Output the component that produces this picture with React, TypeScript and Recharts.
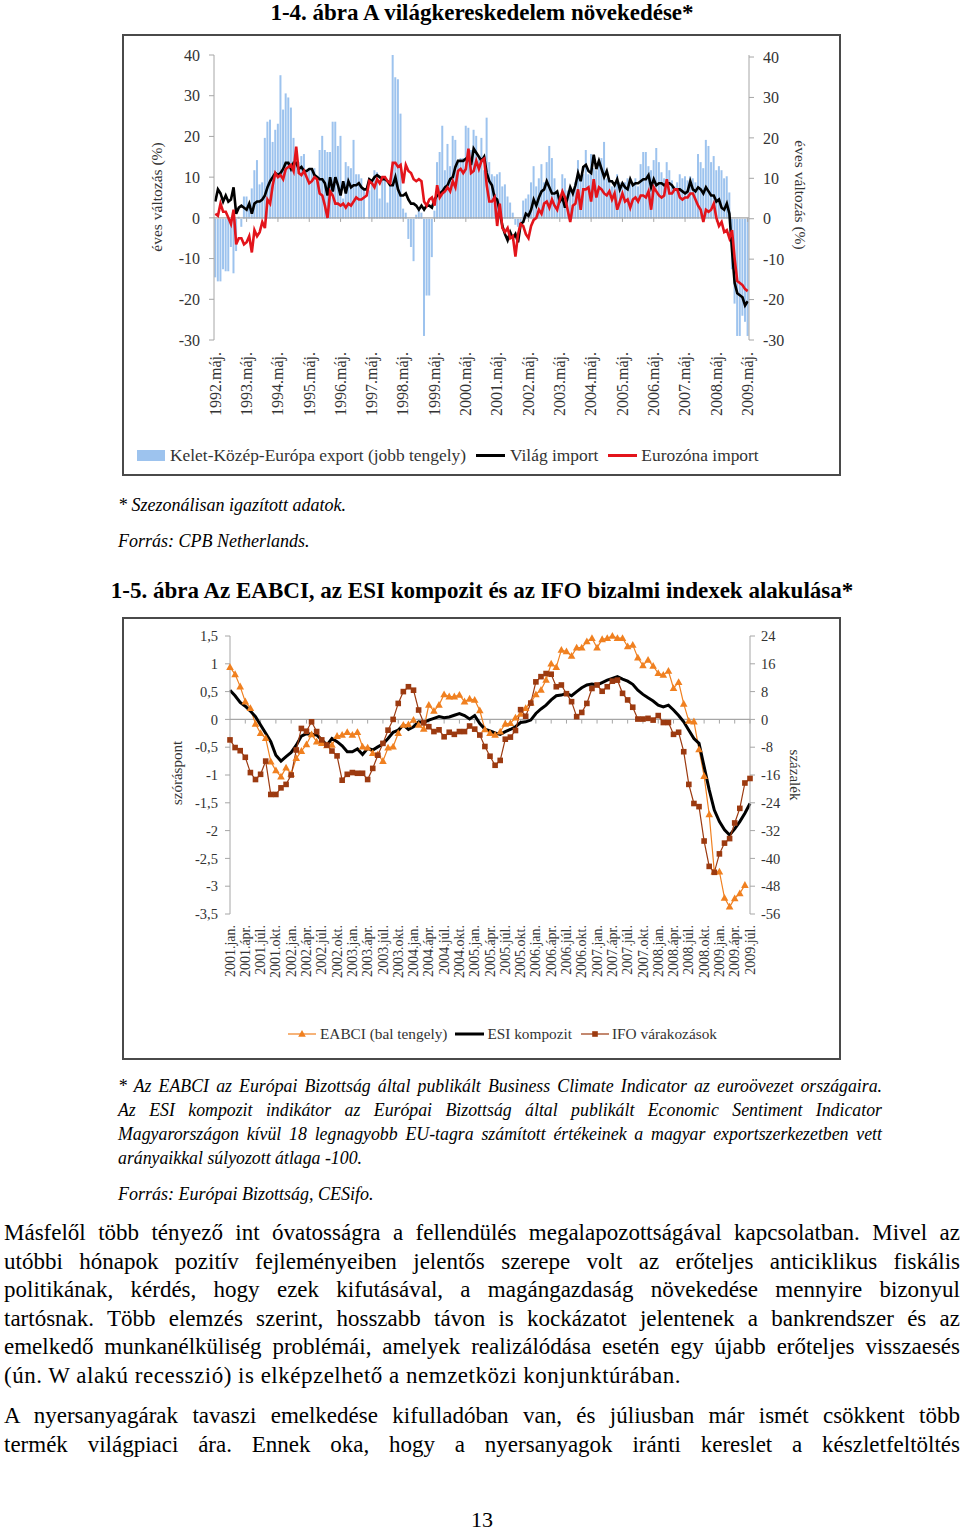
import React from "react";
import {
  ComposedChart,
  LineChart,
  Bar,
  Line,
  XAxis,
  YAxis,
  ReferenceLine,
} from "recharts";

const FONT = '"Liberation Serif", "DejaVu Serif", serif';
const AXIS = "#a6a6a6";
const TXT = "#333";

// 1-4. ábra, havi adatok 1992.máj. – 2009.máj. (éves változás, %)
const EXPORT_KKE = [
  -14.5, -15.5, -15.5, -12.5, -13, -13, -7, -13.5, -8, 0.5, -2, 5.5,
  5.5, 3, 7.5, 12, 14.5, 8.5, 9, 20, 24, 24.5, 19, 22,
  23.5, 35.5, 27, 31, 30, 27.5, 20, 16, 14, 15.5, 16, 12,
  12.5, 12, 12.5, 10.5, 17, 20.5, 17, 16.5, 16.5, 24, 24, 18,
  20.5, 5, 14, 13, 12.5, 19.5, 11, 11, 10, 7.5, 0, 7,
  9, 12, 11.5, 5, 10, 10, 4, 10, 40.5, 35, 34.5, 26,
  2.5, 1.5, -5, -7, -10.5, 1, 2, 1.5, -29, -19, -19, -9.5,
  2, 14, 16.5, 23, 12, 18.5, 13, 20.5, 19.5, 14, 15, 15,
  23, 22.5, 17, 22, 20.5, 15, 20, 12, 25, 14, 11, 10.5,
  11, 11.5, 8, 8.5, 5.5, 4, 1.5, -1.5, -2, -1, 4.5, 5,
  6, 9, 13, 8, 10, 13.5, 9, 14, 18, 15, 10, 6,
  5.5, 11, 10, 7, 8, 6, 9, 14.5, 10, 11, 17, 11,
  16, 12.5, 12, 14.5, 15, 19, 10, 9.5, 8, 8, 11, 9,
  8, 9, 10, 8.5, 9, 10, 8, 13.5, 16.5, 16.5, 13, 12,
  14.5, 17.5, 14, 11.5, 10, 14, 12, 9.5, 8, 9, 11, 10,
  10.5, 9.5, 10.5, 10, 9, 16, 14, 12.5, 19.5, 18, 14, 15.5,
  12, 13, 12, 10, 10.5, 6.5, -12.5, -21, -29, -29, -24, -25.5,
  -29,
];

const VILAG_IMPORT = [
  4, 7, 6, 4, 5.5, 4, 4.5, 7.5, 1, 2.5, 3, 2.5,
  2, 3.5, 1, 3.5, 4, 4, 4.5, 5.5, 7.5, 9, 10, 11,
  10.5, 11, 12, 13.5, 13.5, 12, 13.5, 13.5, 12, 12.5, 11.5, 11.5,
  12, 12, 10.5, 10, 9.5, 9.5, 8.5, 5.5, 10, 6.5, 10, 8,
  5.5, 9, 6, 9, 7.5, 8, 8, 8.5, 7.5, 7, 7, 9.5,
  9, 10, 10.5, 10, 9.5, 9.5, 9, 8, 8, 10, 7, 5.5,
  5.5, 6, 4.5, 3.5, 3.5, 3, 2, 3, 2, 3, 3, 2.5,
  4.5, 5.5, 6, 6.5, 7.5, 8, 9.5, 10, 12.5, 14, 14, 14,
  14.5, 15, 13, 17, 16, 15, 14, 15, 11, 9, 8, 5,
  4.5, 1.5, -2, -4, -5.5, -3.5, -5, -4, -6, -1.5, -1, 1,
  0.5, 2, 4.5, 3, 5, 6.5, 7, 9, 7.5, 6, 6, 6.5,
  4, 5, 2.5, 5, 7.5, 6, 8, 11, 9, 12.5, 13, 11.5,
  11, 15.5, 12, 14, 12, 10, 11.5, 9, 9, 8, 9.5, 7,
  8.5, 7.5, 7, 9.5, 8, 8.5, 8.5, 9, 9.5, 9.5, 10.5, 7.5,
  9.5, 8, 8.5, 8.5, 8, 8.5, 8.5, 8, 7, 7, 7, 6.5,
  6, 6.5, 9, 7, 6.5, 7.5, 7, 6, 7.5, 6.5, 5.5, 5.5,
  4, 4.5, 2.5, 2, 3.5, 1, -8, -16, -18.5, -19, -19.5, -21.5,
  -20.5,
];

const EURO_IMPORT = [
  1, 0.5, 3.5, 1.5, 1.5, 0, -1.5, 2, -6.5, -5, -5, -6.5,
  -6, -4.5, -8.5, -3, -4.5, -3.5, -1, -2.5, 4.5, 3.5, 8, 11,
  10, 10.5, 9.5, 12, 12.5, 13, 11.5, 17.5, 11, 10.5, 11.5, 10,
  8.5, 9, 10, 9.5, 6, 5.5, 3, 0, 6.5, 5.5, 3.5, 3.5,
  3, 3.5, 2.5, 3.5, 3, 4, 5, 4.5, 4.5, 5, 5.5, 9,
  8.5, 7.5, 9.5, 8.5, 10, 10, 9, 8.5, 13.5, 13.5, 12.5, 13,
  8.5, 13, 11.5, 11, 9.5, 9, 9.5, 9, 4, 3, 4.5, 5,
  3, 8, 5, 6, 6.5, 7.5, 6.5, 9, 7.5, 11.5, 12, 11,
  12, 17, 11, 11.5, 14, 12, 14, 14.5, 8, 4, 4, 5,
  -2, 3.5, -2.5, -3.5, -2.5, -5, -4.5, -9.5, -4, -1.5, -2, -4,
  -5, -2, -0.5, 0, 2, 1, 3.5, 4, 2.5, 4.5, 3, 2,
  4.5, 6.5, 5, 2, -1, 3, 3.5, 7, 2, 7, 7, 7.5,
  4, 9.5, 5, 7.5, 7, 6, 5.5, 6.5, 4.5, 6, 2, 4,
  6, 4, 4.5, 2.5, 4.5, 5, 4, 5.5, 5.5, 5, 6.5, 2,
  7.5, 6.5, 5.5, 5, 5.5, 9.5, 6, 6, 7, 7, 5, 4.5,
  5, 5, 6, 6, 4.5, 3, 2, -1, 2, 1.5, 2, 3.5,
  0, -2, -1, -3.5, -3, -5, -3, -10, -15.5, -16, -16.5, -17.5,
  -18,
];

const TICKS_1 = [-30, -20, -10, 0, 10, 20, 30, 40];

// 1-5. ábra, havi adatok 2001.jan. – 2009.júl.
const EABCI = [
  0.94, 0.81, 0.59, 0.32, 0.2, -0.08, -0.25, -0.34, -0.76, -0.92, -1.03, -0.87,
  -0.98, -0.7, -0.57, -0.45, -0.27, -0.4, -0.43, -0.47, -0.46, -0.3, -0.28, -0.23,
  -0.28, -0.23, -0.49, -0.51, -0.61, -0.63, -0.75, -0.51, -0.49, -0.25, -0.1, -0.09,
  -0.01, -0.1, -0.17, 0.26, 0.15, 0.26, 0.45, 0.41, 0.41, 0.44, 0.32, 0.37,
  0.35, 0.16, -0.18, -0.25, -0.28, -0.22, -0.08, -0.07, 0.03, 0.1, 0.2, 0.3,
  0.45, 0.53, 0.71, 1.0, 0.94, 1.25, 1.22, 1.14, 1.29, 1.29, 1.4, 1.46,
  1.29, 1.44, 1.46, 1.5, 1.46, 1.46, 1.31, 1.34, 1.11, 0.97, 1.07, 0.96,
  0.83, 0.8, 0.87, 0.56, 0.67, 0.28, -0.03, -0.04, -0.54, -1.02, -1.71, -2.74,
  -2.74, -3.21, -3.37, -3.22, -3.13, -2.98, null,
];

const ESI = [
  8.4, 6.8, 4.9, 3.8, 2.4, 0.8, -1.6, -4.0, -6.4, -10.3, -12.0, -10.7,
  -9.5, -7.4, -4.8, -4.1, -4.3, -4.5, -5.9, -7.4, -5.5, -6.4, -7.6, -9.3,
  -9.3, -8.5, -10.1, -8.3, -8.8, -7.9, -7.1, -5.5, -3.7, -3.1, -1.6, -2.9,
  -2.1, -0.7, -0.9, -0.2, 0.3, 0.8, 0.5, 0.7, 1.2, 1.7, 1.1, 0.1,
  1.1, -1.2, -2.8, -3.3, -3.9, -4.3, -3.5, -2.9, -2.1, -0.9, -0.7, -0.2,
  1.7, 3.0, 4.1, 5.6, 6.8, 7.0, 7.5, 6.8, 8.0, 9.1, 9.9, 10.2,
  9.9, 10.6, 11.3, 11.8, 12.3, 11.6, 11.0, 10.1, 8.4, 7.2, 6.2, 5.3,
  4.1, 3.6, 4.1, 2.7, 1.1, -0.7, -3.1, -5.5, -6.9, -13.6, -20.3, -26.1,
  -29.4, -31.8, -33.3, -31.5, -29.4, -27.0, -24.2,
];

const IFO = [
  -5.9, -8.1, -9.0, -10.9, -15.3, -17.3, -15.8, -12.0, -21.6, -21.6, -19.7, -18.7,
  -16.0, -8.8, -2.6, -3.4, -0.7, -3.5, -5.9, -7.4, -9.1, -10.5, -17.5, -15.8,
  -15.3, -15.5, -15.5, -17.3, -14.1, -10.3, -6.9, -3.1, 0, 4.6, 8.0, 9.4,
  8.4, 2.7, -1.0, -2.1, -3.5, -3.0, -5.0, -3.7, -4.3, -3.5, -3.5, -1.9,
  -2.8, -4.5, -7.8, -10.6, -13.2, -11.8, -5.7, -5.1, -3.2, 2.8, 0.9, 4.7,
  10.8, 12.3, 13.2, 13.0, 9.4, 9.9, 7.4, 5.1, 0.8, 2.0, 4.6, 8.9,
  9.9, 8.1, 9.4, 11.0, 11.3, 7.5, 5.6, 3.5, 0.1, 0.1, 0.3, -0.2,
  1.1, -0.9, -0.9, -4.3, -3.7, -9.3, -18.7, -24.2, -25.1, -35.0, -42.3, -44.0,
  -38.7, -35.6, -34.3, -29.8, -25.6, -18.3, -17.0,
];

const TICKS_2L = [-3.5, -3, -2.5, -2, -1.5, -1, -0.5, 0, 0.5, 1, 1.5];
const TICKS_2R = [-56, -48, -40, -32, -24, -16, -8, 0, 8, 16, 24];

const HONAP = ["jan.", "febr.", "márc.", "ápr.", "máj.", "jún.", "júl.", "aug.", "szept.", "okt.", "nov.", "dec."];

function honapok(year: number, month: number, count: number) {
  const out: string[] = [];
  for (let k = 0; k < count; k++) {
    const m = month + k;
    out.push(`${year + Math.floor(m / 12)}.${HONAP[m % 12]}`);
  }
  return out;
}

const MONTHS_1 = honapok(1992, 4, EXPORT_KKE.length);
const MONTHS_2 = honapok(2001, 0, EABCI.length);

const C1 = { kke: "#9dc3ee", vilag: "#000000", euro: "#e3141b" };
const C2 = { eabci: "#f08020", esi: "#000000", ifo: "#9c3a10" };

const data1 = MONTHS_1.map((m, i) => ({
  m,
  kke: EXPORT_KKE[i],
  vilag: VILAG_IMPORT[i],
  euro: EURO_IMPORT[i],
}));

const data2 = MONTHS_2.map((m, i) => ({
  m,
  eabci: EABCI[i],
  esi: ESI[i],
  ifo: IFO[i],
}));

const yearTicks1 = MONTHS_1.filter((_, i) => i % 12 === 0 && i > 0);
const quarterTicks2 = MONTHS_2.filter((_, i) => i % 3 === 0 && i > 0);

const comma = (v: number) => String(v).replace(".", ",");

function RotTick(props: any) {
  const { x, y, payload, size } = props;
  return (
    <text
      x={x}
      y={y}
      transform={`rotate(-90 ${x} ${y})`}
      textAnchor="end"
      dy="0.33em"
      fontSize={size}
      fill={TXT}
      fontFamily={FONT}
    >
      {payload.value}
    </text>
  );
}

function Triangle(p: any) {
  if (p.cx == null || p.cy == null || p.value == null) return <g key={p.index} />;
  const { cx, cy } = p;
  return (
    <path
      key={p.index}
      d={`M${cx},${cy - 4}L${cx + 3.8},${cy + 2.8}L${cx - 3.8},${cy + 2.8}Z`}
      fill={C2.eabci}
    />
  );
}

function Square(p: any) {
  if (p.cx == null || p.cy == null || p.value == null) return <g key={p.index} />;
  return <rect key={p.index} x={p.cx - 2.8} y={p.cy - 2.8} width={5.6} height={5.6} fill={C2.ifo} />;
}

const abs = (s: React.CSSProperties): React.CSSProperties => ({ position: "absolute", ...s });

function RotTitle({ x, y, deg, size, children }: any) {
  return (
    <div
      style={abs({
        left: x,
        top: y,
        transform: `translate(-50%, -50%) rotate(${deg}deg)`,
        whiteSpace: "nowrap",
        fontSize: size,
        color: TXT,
        lineHeight: "18px",
      })}
    >
      {children}
    </div>
  );
}

function JLine({ children, last, ls }: any) {
  return (
    <div
      style={{
        textAlign: last ? "left" : "justify",
        textAlignLast: last ? "left" : "justify",
        letterSpacing: ls || 0,
      }}
    >
      {children}
    </div>
  );
}

export default function App() {
  return (
    <div
      style={abs({
        left: 0,
        top: 0,
        width: 960,
        height: 1531,
        background: "#fff",
        overflow: "hidden",
        fontFamily: FONT,
        color: "#000",
      })}
    >
      <div style={abs({ left: 0, top: 0, width: 964, textAlign: "center", fontSize: 23, fontWeight: "bold", lineHeight: "26px" })}>
        1-4. ábra A világkereskedelem növekedése*
      </div>

      <div style={abs({ left: 122, top: 34, width: 719, height: 442, border: "2px solid #4a4a4a", boxSizing: "border-box" })} />
      <div style={abs({ left: 122, top: 34 })}>
        <ComposedChart
          width={720}
          height={443}
          data={data1}
          margin={{ top: 21, right: 33, left: 32, bottom: 107 }}
          barCategoryGap="8%"
          style={{ fontFamily: FONT }}
        >
          <XAxis
            dataKey="m"
            interval={11}
            axisLine={false}
            tickLine={false}
            tickSize={0}
            tickMargin={12}
            height={30}
            tick={(p: any) => <RotTick {...p} size={16} />}
          />
          <YAxis
            yAxisId="left"
            domain={[-30, 40]}
            ticks={TICKS_1}
            interval={0}
            width={60}
            tickSize={5}
            tickMargin={9}
            axisLine={{ stroke: AXIS }}
            tickLine={{ stroke: AXIS }}
            tick={{ fontSize: 16, fill: TXT }}
          />
          <YAxis
            yAxisId="right"
            orientation="right"
            domain={[-30, 40]}
            ticks={TICKS_1}
            interval={0}
            width={60}
            tickSize={5}
            tickMargin={9}
            axisLine={{ stroke: AXIS }}
            tickLine={{ stroke: AXIS }}
            tick={{ fontSize: 16, fill: TXT }}
          />
          <Bar dataKey="kke" yAxisId="right" fill={C1.kke} isAnimationActive={false} />
          <ReferenceLine yAxisId="left" y={0} stroke={AXIS} strokeWidth={1.2} />
          {yearTicks1.map((m) => (
            <ReferenceLine
              key={m}
              yAxisId="left"
              segment={[{ x: m, y: 0 }, { x: m, y: -1 }]}
              stroke={AXIS}
            />
          ))}
          <Line dataKey="vilag" yAxisId="left" stroke={C1.vilag} strokeWidth={2.6} dot={false} type="linear" isAnimationActive={false} />
          <Line dataKey="euro" yAxisId="left" stroke={C1.euro} strokeWidth={2.6} dot={false} type="linear" isAnimationActive={false} />
        </ComposedChart>
      </div>
      <RotTitle x={157} y={197} deg={-90} size={15.5}>éves változás (%)</RotTitle>
      <RotTitle x={800} y={195} deg={90} size={15.5}>éves változás (%)</RotTitle>

      <div style={abs({ left: 137, top: 445, height: 20, display: "flex", alignItems: "center", fontSize: 17.4, color: TXT, whiteSpace: "nowrap" })}>
        <span style={{ display: "inline-block", width: 28, height: 11, background: C1.kke, marginRight: 5 }} />
        <span style={{ marginRight: 10 }}>Kelet-Közép-Európa export (jobb tengely)</span>
        <span style={{ display: "inline-block", width: 29, height: 3, background: C1.vilag, marginRight: 5 }} />
        <span style={{ marginRight: 10 }}>Világ import</span>
        <span style={{ display: "inline-block", width: 29, height: 3, background: C1.euro, marginRight: 4 }} />
        <span>Eurozóna import</span>
      </div>

      <div style={abs({ left: 118, top: 495, fontSize: 18, fontStyle: "italic", lineHeight: "20px" })}>* Szezonálisan igazított adatok.</div>
      <div style={abs({ left: 118, top: 531, fontSize: 18, fontStyle: "italic", lineHeight: "20px" })}>Forrás: CPB Netherlands.</div>

      <div style={abs({ left: 0, top: 578.5, width: 964, textAlign: "center", fontSize: 23, fontWeight: "bold", lineHeight: "23px" })}>
        1-5. ábra Az EABCI, az ESI kompozit és az IFO bizalmi indexek alakulása*
      </div>

      <div style={abs({ left: 122, top: 617, width: 719, height: 443, border: "2px solid #4a4a4a", boxSizing: "border-box" })} />
      <div style={abs({ left: 122, top: 617 })}>
        <LineChart
          width={720}
          height={443}
          data={data2}
          margin={{ top: 19, right: 32, left: 48, bottom: 116 }}
          style={{ fontFamily: FONT }}
        >
          <XAxis
            dataKey="m"
            interval={2}
            axisLine={false}
            tickLine={false}
            tickSize={0}
            tickMargin={11}
            height={30}
            tick={(p: any) => <RotTick {...p} size={14} />}
          />
          <YAxis
            yAxisId="left"
            domain={[-3.5, 1.5]}
            ticks={TICKS_2L}
            interval={0}
            width={60}
            tickSize={5}
            tickMargin={7}
            tickFormatter={comma}
            axisLine={{ stroke: AXIS }}
            tickLine={{ stroke: AXIS }}
            tick={{ fontSize: 14.5, fill: TXT }}
          />
          <YAxis
            yAxisId="right"
            orientation="right"
            domain={[-56, 24]}
            ticks={TICKS_2R}
            interval={0}
            width={60}
            tickSize={5}
            tickMargin={6}
            axisLine={{ stroke: AXIS }}
            tickLine={{ stroke: AXIS }}
            tick={{ fontSize: 14.5, fill: TXT }}
          />
          <ReferenceLine yAxisId="left" y={0} stroke={AXIS} strokeWidth={1.2} />
          {quarterTicks2.map((m) => (
            <ReferenceLine
              key={m}
              yAxisId="left"
              segment={[{ x: m, y: 0 }, { x: m, y: -0.075 }]}
              stroke={AXIS}
            />
          ))}
          <Line dataKey="eabci" yAxisId="left" stroke={C2.eabci} strokeWidth={1.2} dot={Triangle} type="linear" isAnimationActive={false} />
          <Line dataKey="esi" yAxisId="right" stroke={C2.esi} strokeWidth={3} dot={false} type="linear" isAnimationActive={false} />
          <Line dataKey="ifo" yAxisId="right" stroke={C2.ifo} strokeWidth={1.2} dot={Square} type="linear" isAnimationActive={false} />
        </LineChart>
      </div>
      <RotTitle x={177} y={773} deg={-90} size={15}>szóráspont</RotTitle>
      <RotTitle x={795} y={775} deg={90} size={15}>százalék</RotTitle>

      <div style={abs({ left: 288, top: 1024, height: 20, display: "flex", alignItems: "center", fontSize: 15.3, color: TXT, whiteSpace: "nowrap" })}>
        <svg width={28} height={10} style={{ marginRight: 4 }}>
          <line x1={0} y1={5} x2={28} y2={5} stroke={C2.eabci} strokeWidth={1.2} />
          <path d="M14,1L17.8,7.8L10.2,7.8Z" fill={C2.eabci} />
        </svg>
        <span style={{ marginRight: 8 }}>EABCI (bal tengely)</span>
        <svg width={29} height={10} style={{ marginRight: 3 }}>
          <line x1={0} y1={5} x2={29} y2={5} stroke={C2.esi} strokeWidth={3} />
        </svg>
        <span style={{ marginRight: 9 }}>ESI kompozit</span>
        <svg width={28} height={10} style={{ marginRight: 3 }}>
          <line x1={0} y1={5} x2={28} y2={5} stroke={C2.ifo} strokeWidth={1.2} />
          <rect x={11.2} y={2.2} width={5.6} height={5.6} fill={C2.ifo} />
        </svg>
        <span>IFO várakozások</span>
      </div>

      <div style={abs({ left: 118, top: 1074, width: 764, fontSize: 17.8, fontStyle: "italic", lineHeight: "24px" })}>
        <JLine>* Az EABCI az Európai Bizottság által publikált Business Climate Indicator az euroövezet országaira.</JLine>
        <JLine>Az ESI kompozit indikátor az Európai Bizottság által publikált Economic Sentiment Indicator</JLine>
        <JLine>Magyarországon kívül 18 legnagyobb EU-tagra számított értékeinek a magyar exportszerkezetben vett</JLine>
        <JLine last>arányaikkal súlyozott átlaga -100.</JLine>
      </div>
      <div style={abs({ left: 118, top: 1182, fontSize: 18, fontStyle: "italic", lineHeight: "24px" })}>Forrás: Európai Bizottság, CESifo.</div>

      <div style={abs({ left: 4, top: 1219, width: 956, fontSize: 23, lineHeight: "28.5px" })}>
        <JLine>Másfelől több tényező int óvatosságra a fellendülés megalapozottságával kapcsolatban. Mivel az</JLine>
        <JLine>utóbbi hónapok pozitív fejleményeiben jelentős szerepe volt az erőteljes anticiklikus fiskális</JLine>
        <JLine>politikának, kérdés, hogy ezek kifutásával, a magángazdaság növekedése mennyire bizonyul</JLine>
        <JLine>tartósnak. Több elemzés szerint, hosszabb távon is kockázatot jelentenek a bankrendszer és az</JLine>
        <JLine>emelkedő munkanélküliség problémái, amelyek realizálódása esetén egy újabb erőteljes visszaesés</JLine>
        <JLine last ls="0.5px">(ún. W alakú recesszió) is elképzelhető a nemzetközi konjunktúrában.</JLine>
      </div>
      <div style={abs({ left: 4, top: 1402, width: 956, fontSize: 23, lineHeight: "28.5px" })}>
        <JLine>A nyersanyagárak tavaszi emelkedése kifulladóban van, és júliusban már ismét csökkent több</JLine>
        <JLine>termék világpiaci ára. Ennek oka, hogy a nyersanyagok iránti kereslet a készletfeltöltés</JLine>
      </div>

      <div style={abs({ left: 0, top: 1506, width: 964, textAlign: "center", fontSize: 22, lineHeight: "28px" })}>13</div>
    </div>
  );
}
